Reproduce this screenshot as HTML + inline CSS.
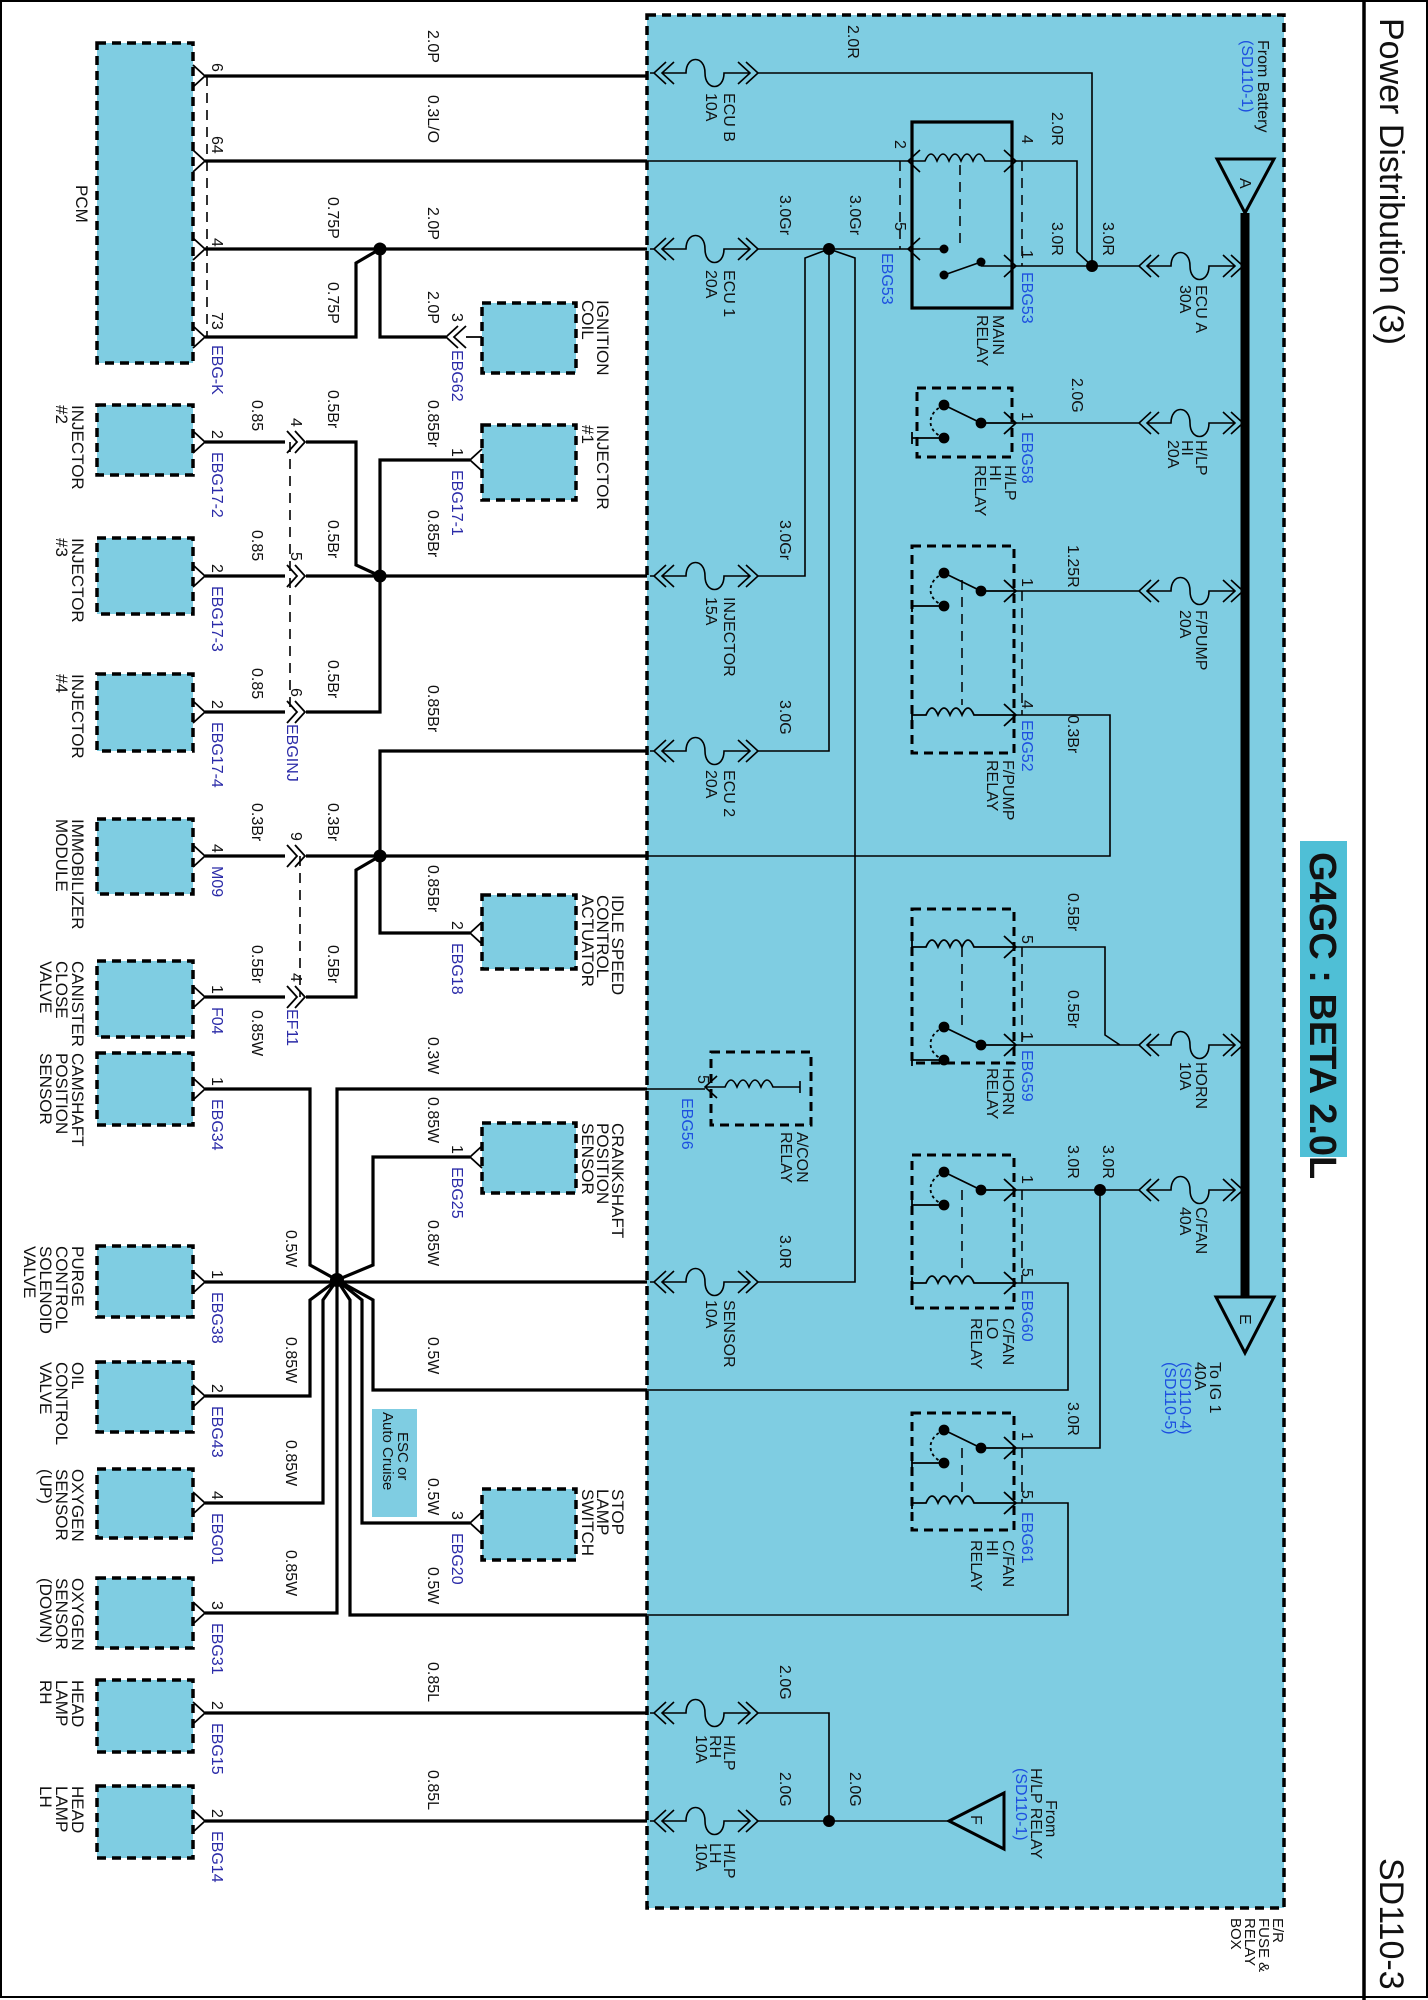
<!DOCTYPE html>
<html><head><meta charset="utf-8"><style>
html,body{margin:0;padding:0;background:#fff}
svg{display:block}
text{font-family:"Liberation Sans",Arial,sans-serif;font-size:16px;fill:#111}
.c{font-size:17px}
.b{fill:#2b2ba8}
.bb{fill:#1d4fe0}
.w{fill:none;stroke:#000;stroke-width:3.2}
.t{fill:none;stroke:#000;stroke-width:1.6}
.bx{fill:#7fcde2;stroke:#000;stroke-width:3.5;stroke-dasharray:9,6}
.rl{fill:none;stroke:#000;stroke-width:3;stroke-dasharray:9,6}
.dl{fill:none;stroke:#000;stroke-width:1.5;stroke-dasharray:10,7}
</style></head><body>
<svg width="1428" height="2000" viewBox="0 0 1428 2000" xmlns="http://www.w3.org/2000/svg">
<defs>
<g id="fz" fill="none" stroke="#000" stroke-width="1.6"><path d="M0,0H4 M16,-11L4,0L16,11 M24,-11L12,0L24,11 M12,0H36 C36,-18 55,-18 55,0 C55,18 74,18 74,0 H100 M88,-11L100,0L88,11 M96,-11L108,0L96,11"/></g>
<g id="pl" fill="none" stroke="#000" stroke-width="1.8"><path d="M-12,-11L0,0L-12,11"/></g>
<g id="pr" fill="none" stroke="#000" stroke-width="1.8"><path d="M12,-11L0,0L12,11"/></g>
<g id="cn" fill="none" stroke="#000" stroke-width="1.8"><path d="M0,-11L10,0L0,11 M-8,-11L2,0L-8,11"/></g>
<g id="sw" fill="none" stroke="#000" stroke-width="1.8"><circle cx="69" cy="0" r="4.5" fill="#000"/><circle cx="32" cy="-18" r="4.5" fill="#000"/><circle cx="32" cy="15" r="4.5" fill="#000"/><path d="M32,-18L69,0 M69,0H104 M0,15H32 M0,9V21 M92,-11L104,0L92,11"/><path d="M32,-18 C14,-10 14,8 32,15" stroke-dasharray="3,3"/></g>
<g id="co" fill="none" stroke="#000" stroke-width="1.8"><path d="M0,0H14 q6,-14 12,0 q6,-14 12,0 q6,-14 12,0 q6,-14 12,0 H104 M0,-6V6 M92,-11L104,0L92,11"/></g>
</defs>
<rect x="1" y="1" width="1426" height="1996" fill="none" stroke="#000" stroke-width="2"/>
<line x1="1364" y1="0" x2="1364" y2="2000" stroke="#000" stroke-width="3.5"/>
<text transform="translate(1380,18) rotate(90)" style="font-size:34px">Power Distribution (3)</text>
<text transform="translate(1380,1858) rotate(90)" style="font-size:34px">SD110-3</text>

<rect x="647" y="15" width="637" height="1893" class="bx"/>
<text transform="translate(1273,1918) rotate(90)" style="font-size:15px">E/R</text>
<text transform="translate(1259,1918) rotate(90)" style="font-size:15px">FUSE &amp;</text>
<text transform="translate(1245,1918) rotate(90)" style="font-size:15px">RELAY</text>
<text transform="translate(1231,1918) rotate(90)" style="font-size:15px">BOX</text>

<rect x="1300" y="841" width="47" height="316" fill="#4fbfd6"/>
<text transform="translate(1310,852) rotate(90)" style="font-size:38px;font-weight:bold">G4GC : BETA 2.0L</text>

<line x1="1245" y1="213" x2="1245" y2="1297" stroke="#000" stroke-width="9"/>
<polygon points="1217,159 1274,159 1245,213" fill="#7fcde2" stroke="#000" stroke-width="3"/>
<text transform="translate(1240,178) rotate(90)">A</text>
<polygon points="1216,1297 1274,1297 1245,1353" fill="#7fcde2" stroke="#000" stroke-width="3"/>
<text transform="translate(1240,1314) rotate(90)">E</text>
<polygon points="949,1821 1004,1793 1004,1849" fill="#7fcde2" stroke="#000" stroke-width="3"/>
<text transform="translate(971,1815) rotate(90)">F</text>
<text transform="translate(1258,40) rotate(90)">From Battery</text>
<text class="bb" transform="translate(1242,40) rotate(90)">(SD110-1)</text>
<text transform="translate(1210,1362) rotate(90)">To IG 1</text>
<text transform="translate(1195,1362) rotate(90)">40A</text>
<text class="bb" transform="translate(1180,1362) rotate(90)">(SD110-4)</text>
<text class="bb" transform="translate(1165,1362) rotate(90)">(SD110-5)</text>
<text transform="translate(1046,1800) rotate(90)">From</text>
<text transform="translate(1031,1768) rotate(90)">H/LP RELAY</text>
<text class="bb" transform="translate(1016,1768) rotate(90)">(SD110-1)</text>

<use href="#fz" x="650" y="73"/>
<use href="#fz" x="650" y="249"/>
<use href="#fz" x="650" y="576"/>
<use href="#fz" x="650" y="751"/>
<use href="#fz" x="650" y="1282"/>
<use href="#fz" x="650" y="1713"/>
<use href="#fz" x="650" y="1821"/>
<use href="#fz" x="1135" y="266"/>
<use href="#fz" x="1135" y="423"/>
<use href="#fz" x="1135" y="591"/>
<use href="#fz" x="1135" y="1045"/>
<use href="#fz" x="1135" y="1190"/>
<text transform="translate(724,93) rotate(90)">ECU B</text><text transform="translate(706,93) rotate(90)">10A</text>
<text transform="translate(724,270) rotate(90)">ECU 1</text><text transform="translate(706,270) rotate(90)">20A</text>
<text transform="translate(724,597) rotate(90)">INJECTOR</text><text transform="translate(706,597) rotate(90)">15A</text>
<text transform="translate(724,770) rotate(90)">ECU 2</text><text transform="translate(706,770) rotate(90)">20A</text>
<text transform="translate(724,1300) rotate(90)">SENSOR</text><text transform="translate(706,1300) rotate(90)">10A</text>
<text transform="translate(724,1735) rotate(90)">H/LP</text><text transform="translate(710,1735) rotate(90)">RH</text><text transform="translate(696,1735) rotate(90)">10A</text>
<text transform="translate(724,1843) rotate(90)">H/LP</text><text transform="translate(710,1843) rotate(90)">LH</text><text transform="translate(696,1843) rotate(90)">10A</text>
<text transform="translate(1196,285) rotate(90)">ECU A</text><text transform="translate(1180,285) rotate(90)">30A</text>
<text transform="translate(1196,440) rotate(90)">H/LP</text><text transform="translate(1182,440) rotate(90)">HI</text><text transform="translate(1168,440) rotate(90)">20A</text>
<text transform="translate(1196,610) rotate(90)">F/PUMP</text><text transform="translate(1180,610) rotate(90)">20A</text>
<text transform="translate(1196,1062) rotate(90)">HORN</text><text transform="translate(1180,1062) rotate(90)">10A</text>
<text transform="translate(1196,1207) rotate(90)">C/FAN</text><text transform="translate(1180,1207) rotate(90)">40A</text>

<path class="t" d="M758,73H1092V266 M647,161H908 M758,249H908 M1016,161H1077V252L1092,266 M1016,266H1135 M758,576H805V258L829,249 M758,751H829V249 M758,1282H855V258L829,249"/>
<path class="t" d="M1016,423H1135 M1016,591H1135 M1016,715H1110V856H647 M1016,947H1105V1035L1120,1045 M1016,1045H1135 M1016,1190H1135 M1100,1190V1448H1016 M1016,1283H1068V1390H647 M1016,1503H1068V1615H647 M647,1089H705 M758,1713H829V1821 M758,1821H949"/>
<circle cx="1092" cy="266" r="6" fill="#000"/>
<circle cx="829" cy="249" r="6" fill="#000"/>
<circle cx="1100" cy="1190" r="6" fill="#000"/>
<circle cx="829" cy="1821" r="6" fill="#000"/>

<rect x="912" y="122" width="100" height="186" fill="none" stroke="#000" stroke-width="3.2"/>
<path class="t" d="M908,161H925 q6,-14 12,0 q6,-14 12,0 q6,-14 12,0 q6,-14 12,0 q6,-14 12,0 H1016 M908,249H944"/>
<path class="t" d="M920,150L908,161L920,172 M1004,150L1016,161L1004,172 M920,238L908,249L920,260 M1004,255L1016,266L1004,277"/>
<circle cx="944" cy="249" r="4.5"/><circle cx="981" cy="262" r="4.5"/><circle cx="944" cy="275" r="4.5"/>
<path class="t" d="M981,262L944,275 M981,266H1016"/>
<path class="dl" d="M960,165V250 M900,161V249 M1022,161V266"/>
<text transform="translate(895,140) rotate(90)">2</text><text transform="translate(1022,135) rotate(90)">4</text>
<text transform="translate(895,222) rotate(90)">5</text><text transform="translate(1022,250) rotate(90)">1</text>
<text class="bb" transform="translate(882,253) rotate(90)">EBG53</text><text class="bb" transform="translate(1022,272) rotate(90)">EBG53</text>
<text transform="translate(993,315) rotate(90)">MAIN</text><text transform="translate(977,315) rotate(90)">RELAY</text>

<rect x="917" y="388" width="95" height="69" class="rl"/>
<use href="#sw" x="912" y="423"/>
<text transform="translate(1022,412) rotate(90)">1</text>
<text class="bb" transform="translate(1022,432) rotate(90)">EBG58</text>
<text transform="translate(1005,465) rotate(90)">H/LP</text><text transform="translate(990,465) rotate(90)">HI</text><text transform="translate(975,465) rotate(90)">RELAY</text>

<rect x="912" y="546" width="102" height="207" class="rl"/>
<use href="#sw" x="912" y="591"/>
<use href="#co" x="912" y="715"/>
<path class="dl" d="M962,580V705 M1022,591V715"/>
<text transform="translate(1022,578) rotate(90)">1</text><text transform="translate(1022,700) rotate(90)">4</text>
<text class="bb" transform="translate(1022,720) rotate(90)">EBG52</text>
<text transform="translate(1003,760) rotate(90)">F/PUMP</text><text transform="translate(987,760) rotate(90)">RELAY</text>

<rect x="912" y="909" width="102" height="154" class="rl"/>
<use href="#co" x="912" y="947"/>
<use href="#sw" x="912" y="1045"/>
<path class="dl" d="M962,947V1030 M1022,947V1045"/>
<text transform="translate(1022,935) rotate(90)">5</text><text transform="translate(1022,1032) rotate(90)">1</text>
<text class="bb" transform="translate(1022,1050) rotate(90)">EBG59</text>
<text transform="translate(1003,1068) rotate(90)">HORN</text><text transform="translate(987,1068) rotate(90)">RELAY</text>

<rect x="711" y="1052" width="100" height="73" class="rl"/>
<path class="t" d="M705,1087H725 q6,-14 12,0 q6,-14 12,0 q6,-14 12,0 q6,-14 12,0 H800 M800,1081V1093 M717,1076L705,1087L717,1098"/>
<text transform="translate(698,1075) rotate(90)">5</text>
<text class="bb" transform="translate(682,1098) rotate(90)">EBG56</text>
<text transform="translate(797,1132) rotate(90)">A/CON</text><text transform="translate(781,1132) rotate(90)">RELAY</text>

<rect x="912" y="1155" width="102" height="153" class="rl"/>
<use href="#sw" x="912" y="1190"/>
<use href="#co" x="912" y="1283"/>
<path class="dl" d="M962,1190V1275 M1022,1190V1283"/>
<text transform="translate(1022,1175) rotate(90)">1</text><text transform="translate(1022,1268) rotate(90)">5</text>
<text class="bb" transform="translate(1022,1290) rotate(90)">EBG60</text>
<text transform="translate(1003,1318) rotate(90)">C/FAN</text><text transform="translate(987,1318) rotate(90)">LO</text><text transform="translate(971,1318) rotate(90)">RELAY</text>

<rect x="912" y="1413" width="102" height="117" class="rl"/>
<use href="#sw" x="912" y="1448"/>
<use href="#co" x="912" y="1503"/>
<path class="dl" d="M962,1448V1495 M1022,1448V1503"/>
<text transform="translate(1022,1432) rotate(90)">1</text><text transform="translate(1022,1490) rotate(90)">5</text>
<text class="bb" transform="translate(1022,1512) rotate(90)">EBG61</text>
<text transform="translate(1003,1540) rotate(90)">C/FAN</text><text transform="translate(987,1540) rotate(90)">HI</text><text transform="translate(971,1540) rotate(90)">RELAY</text>

<text transform="translate(848,25) rotate(90)">2.0R</text>
<text transform="translate(1052,112) rotate(90)">2.0R</text>
<text transform="translate(1052,222) rotate(90)">3.0R</text>
<text transform="translate(1103,222) rotate(90)">3.0R</text>
<text transform="translate(780,195) rotate(90)">3.0Gr</text>
<text transform="translate(850,195) rotate(90)">3.0Gr</text>
<text transform="translate(1072,378) rotate(90)">2.0G</text>
<text transform="translate(1068,545) rotate(90)">1.25R</text>
<text transform="translate(1068,715) rotate(90)">0.3Br</text>
<text transform="translate(780,520) rotate(90)">3.0Gr</text>
<text transform="translate(780,700) rotate(90)">3.0G</text>
<text transform="translate(1068,893) rotate(90)">0.5Br</text>
<text transform="translate(1068,990) rotate(90)">0.5Br</text>
<text transform="translate(1068,1145) rotate(90)">3.0R</text>
<text transform="translate(1103,1145) rotate(90)">3.0R</text>
<text transform="translate(1068,1402) rotate(90)">3.0R</text>
<text transform="translate(780,1235) rotate(90)">3.0R</text>
<text transform="translate(780,1665) rotate(90)">2.0G</text>
<text transform="translate(780,1772) rotate(90)">2.0G</text>
<text transform="translate(850,1772) rotate(90)">2.0G</text>

<path class="w" d="M205,76H647 M205,161H647 M205,249H647 M205,337H356V263L380,249 M380,249V337H446"/>
<path class="w" d="M205,442H285 M306,442H356V565L380,576 M470,460H380V576 M205,576H285 M306,576H647 M205,712H285 M306,712H380V576"/>
<path class="w" d="M647,751H380V933H470 M205,856H285 M306,856H647 M205,997H285 M306,997H356V870L380,856"/>
<path class="w" d="M205,1089H310V1265L337,1280 M647,1089H337V1280 M470,1157H373V1265L337,1280 M205,1282H647"/>
<path class="w" d="M205,1396H310V1300L337,1280 M205,1503H323V1300L337,1280 M205,1613H337V1280 M647,1615H350V1300L337,1280 M470,1523H362V1300L337,1280 M647,1390H373V1300L337,1280"/>
<path class="w" d="M205,1713H647 M205,1821H647"/>
<circle cx="380" cy="249" r="6.5" fill="#000"/>
<circle cx="380" cy="576" r="6.5" fill="#000"/>
<circle cx="380" cy="856" r="6.5" fill="#000"/>
<circle cx="337" cy="1280" r="7" fill="#000"/>
<path class="dl" d="M207,76V337 M290,442V712 M300,856V997" style="stroke-width:1.6"/>

<use href="#cn" x="295" y="442"/><use href="#cn" x="295" y="576"/><use href="#cn" x="295" y="712"/>
<use href="#cn" x="295" y="856"/><use href="#cn" x="295" y="997"/>
<path class="t" style="stroke-width:1.8" d="M458,326L446,337L458,348 M466,326L454,337L466,348 M466,337H482"/>

<g class="bx">
<rect x="97" y="43" width="96" height="320"/>
<rect x="97" y="405" width="96" height="70"/>
<rect x="97" y="538" width="96" height="76"/>
<rect x="97" y="674" width="96" height="77"/>
<rect x="97" y="819" width="96" height="75"/>
<rect x="97" y="961" width="96" height="76"/>
<rect x="97" y="1053" width="96" height="72"/>
<rect x="97" y="1246" width="96" height="71"/>
<rect x="97" y="1362" width="96" height="70"/>
<rect x="97" y="1469" width="96" height="69"/>
<rect x="97" y="1578" width="96" height="70"/>
<rect x="97" y="1680" width="96" height="72"/>
<rect x="97" y="1786" width="96" height="72"/>
<rect x="482" y="303" width="94" height="70"/>
<rect x="482" y="425" width="94" height="75"/>
<rect x="482" y="895" width="94" height="74"/>
<rect x="482" y="1123" width="94" height="70"/>
<rect x="482" y="1489" width="94" height="71"/>
</g>
<rect x="372" y="1409" width="45" height="108" fill="#7fcde2"/>
<text transform="translate(398,1432) rotate(90)" style="font-size:15px">ESC or</text>
<text transform="translate(383,1412) rotate(90)" style="font-size:15px">Auto Cruise</text>

<use href="#pl" x="205" y="76"/><use href="#pl" x="205" y="161"/><use href="#pl" x="205" y="249"/><use href="#pl" x="205" y="337"/>
<use href="#pl" x="205" y="442"/><use href="#pl" x="205" y="576"/><use href="#pl" x="205" y="712"/><use href="#pl" x="205" y="856"/>
<use href="#pl" x="205" y="997"/><use href="#pl" x="205" y="1089"/><use href="#pl" x="205" y="1282"/><use href="#pl" x="205" y="1396"/>
<use href="#pl" x="205" y="1503"/><use href="#pl" x="205" y="1613"/><use href="#pl" x="205" y="1713"/><use href="#pl" x="205" y="1821"/>
<use href="#pr" x="470" y="460"/><use href="#pr" x="470" y="933"/><use href="#pr" x="470" y="1157"/><use href="#pr" x="470" y="1523"/>

<g class="c">
<text class="c" transform="translate(76,185) rotate(90)">PCM</text>
<text class="c" transform="translate(72,405) rotate(90)">INJECTOR</text><text class="c" transform="translate(56,405) rotate(90)">#2</text>
<text class="c" transform="translate(72,538) rotate(90)">INJECTOR</text><text class="c" transform="translate(56,538) rotate(90)">#3</text>
<text class="c" transform="translate(72,674) rotate(90)">INJECTOR</text><text class="c" transform="translate(56,674) rotate(90)">#4</text>
<text class="c" transform="translate(72,819) rotate(90)">IMMOBILIZER</text><text class="c" transform="translate(56,819) rotate(90)">MODULE</text>
<text class="c" transform="translate(72,961) rotate(90)">CANISTER</text><text class="c" transform="translate(56,961) rotate(90)">CLOSE</text><text class="c" transform="translate(40,961) rotate(90)">VALVE</text>
<text class="c" transform="translate(72,1053) rotate(90)">CAMSHAFT</text><text class="c" transform="translate(56,1053) rotate(90)">POSITION</text><text class="c" transform="translate(40,1053) rotate(90)">SENSOR</text>
<text class="c" transform="translate(72,1246) rotate(90)">PURGE</text><text class="c" transform="translate(56,1246) rotate(90)">CONTROL</text><text class="c" transform="translate(40,1246) rotate(90)">SOLENOID</text><text class="c" transform="translate(24,1246) rotate(90)">VALVE</text>
<text class="c" transform="translate(72,1362) rotate(90)">OIL</text><text class="c" transform="translate(56,1362) rotate(90)">CONTROL</text><text class="c" transform="translate(40,1362) rotate(90)">VALVE</text>
<text class="c" transform="translate(72,1469) rotate(90)">OXYGEN</text><text class="c" transform="translate(56,1469) rotate(90)">SENSOR</text><text class="c" transform="translate(40,1469) rotate(90)">(UP)</text>
<text class="c" transform="translate(72,1578) rotate(90)">OXYGEN</text><text class="c" transform="translate(56,1578) rotate(90)">SENSOR</text><text class="c" transform="translate(40,1578) rotate(90)">(DOWN)</text>
<text class="c" transform="translate(72,1680) rotate(90)">HEAD</text><text class="c" transform="translate(56,1680) rotate(90)">LAMP</text><text class="c" transform="translate(40,1680) rotate(90)">RH</text>
<text class="c" transform="translate(72,1786) rotate(90)">HEAD</text><text class="c" transform="translate(56,1786) rotate(90)">LAMP</text><text class="c" transform="translate(40,1786) rotate(90)">LH</text>
<text class="c" transform="translate(597,300) rotate(90)">IGNITION</text><text class="c" transform="translate(582,300) rotate(90)">COIL</text>
<text class="c" transform="translate(597,425) rotate(90)">INJECTOR</text><text class="c" transform="translate(582,425) rotate(90)">#1</text>
<text class="c" transform="translate(612,895) rotate(90)">IDLE SPEED</text><text class="c" transform="translate(597,895) rotate(90)">CONTROL</text><text class="c" transform="translate(582,895) rotate(90)">ACTUATOR</text>
<text class="c" transform="translate(612,1123) rotate(90)">CRANKSHAFT</text><text class="c" transform="translate(597,1123) rotate(90)">POSITION</text><text class="c" transform="translate(582,1123) rotate(90)">SENSOR</text>
<text class="c" transform="translate(612,1489) rotate(90)">STOP</text><text class="c" transform="translate(597,1489) rotate(90)">LAMP</text><text class="c" transform="translate(582,1489) rotate(90)">SWITCH</text>
</g>

<text transform="translate(212,63) rotate(90)">6</text>
<text transform="translate(212,136) rotate(90)">64</text>
<text transform="translate(212,238) rotate(90)">4</text>
<text transform="translate(212,312) rotate(90)">73</text>
<text class="b" transform="translate(212,345) rotate(90)">EBG-K</text>
<text transform="translate(212,430) rotate(90)">2</text><text class="b" transform="translate(212,452) rotate(90)">EBG17-2</text>
<text transform="translate(212,564) rotate(90)">2</text><text class="b" transform="translate(212,586) rotate(90)">EBG17-3</text>
<text transform="translate(212,700) rotate(90)">2</text><text class="b" transform="translate(212,722) rotate(90)">EBG17-4</text>
<text transform="translate(212,844) rotate(90)">4</text><text class="b" transform="translate(212,866) rotate(90)">M09</text>
<text transform="translate(212,985) rotate(90)">1</text><text class="b" transform="translate(212,1007) rotate(90)">F04</text>
<text transform="translate(212,1077) rotate(90)">1</text><text class="b" transform="translate(212,1099) rotate(90)">EBG34</text>
<text transform="translate(212,1270) rotate(90)">1</text><text class="b" transform="translate(212,1292) rotate(90)">EBG38</text>
<text transform="translate(212,1384) rotate(90)">2</text><text class="b" transform="translate(212,1406) rotate(90)">EBG43</text>
<text transform="translate(212,1491) rotate(90)">4</text><text class="b" transform="translate(212,1513) rotate(90)">EBG01</text>
<text transform="translate(212,1601) rotate(90)">3</text><text class="b" transform="translate(212,1623) rotate(90)">EBG31</text>
<text transform="translate(212,1701) rotate(90)">2</text><text class="b" transform="translate(212,1723) rotate(90)">EBG15</text>
<text transform="translate(212,1809) rotate(90)">2</text><text class="b" transform="translate(212,1831) rotate(90)">EBG14</text>
<text transform="translate(452,313) rotate(90)">3</text><text class="b" transform="translate(452,350) rotate(90)">EBG62</text>
<text transform="translate(452,448) rotate(90)">1</text><text class="b" transform="translate(452,470) rotate(90)">EBG17-1</text>
<text transform="translate(452,921) rotate(90)">2</text><text class="b" transform="translate(452,943) rotate(90)">EBG18</text>
<text transform="translate(452,1145) rotate(90)">1</text><text class="b" transform="translate(452,1167) rotate(90)">EBG25</text>
<text transform="translate(452,1511) rotate(90)">3</text><text class="b" transform="translate(452,1533) rotate(90)">EBG20</text>
<text transform="translate(291,418) rotate(90)">4</text>
<text transform="translate(291,552) rotate(90)">5</text>
<text transform="translate(291,688) rotate(90)">6</text>
<text class="b" transform="translate(287,724) rotate(90)">EBGINJ</text>
<text transform="translate(291,832) rotate(90)">9</text>
<text transform="translate(291,973) rotate(90)">4</text>
<text class="b" transform="translate(287,1009) rotate(90)">EF11</text>

<text transform="translate(428,30) rotate(90)">2.0P</text>
<text transform="translate(428,95) rotate(90)">0.3L/O</text>
<text transform="translate(428,207) rotate(90)">2.0P</text>
<text transform="translate(328,197) rotate(90)">0.75P</text>
<text transform="translate(328,282) rotate(90)">0.75P</text>
<text transform="translate(428,291) rotate(90)">2.0P</text>
<text transform="translate(328,390) rotate(90)">0.5Br</text>
<text transform="translate(252,400) rotate(90)">0.85</text>
<text transform="translate(428,400) rotate(90)">0.85Br</text>
<text transform="translate(428,510) rotate(90)">0.85Br</text>
<text transform="translate(328,520) rotate(90)">0.5Br</text>
<text transform="translate(252,530) rotate(90)">0.85</text>
<text transform="translate(328,660) rotate(90)">0.5Br</text>
<text transform="translate(252,668) rotate(90)">0.85</text>
<text transform="translate(428,685) rotate(90)">0.85Br</text>
<text transform="translate(328,803) rotate(90)">0.3Br</text>
<text transform="translate(252,803) rotate(90)">0.3Br</text>
<text transform="translate(428,865) rotate(90)">0.85Br</text>
<text transform="translate(328,945) rotate(90)">0.5Br</text>
<text transform="translate(252,945) rotate(90)">0.5Br</text>
<text transform="translate(252,1010) rotate(90)">0.85W</text>
<text transform="translate(428,1037) rotate(90)">0.3W</text>
<text transform="translate(428,1097) rotate(90)">0.85W</text>
<text transform="translate(428,1220) rotate(90)">0.85W</text>
<text transform="translate(286,1230) rotate(90)">0.5W</text>
<text transform="translate(286,1337) rotate(90)">0.85W</text>
<text transform="translate(428,1337) rotate(90)">0.5W</text>
<text transform="translate(286,1440) rotate(90)">0.85W</text>
<text transform="translate(428,1478) rotate(90)">0.5W</text>
<text transform="translate(286,1550) rotate(90)">0.85W</text>
<text transform="translate(428,1567) rotate(90)">0.5W</text>
<text transform="translate(428,1662) rotate(90)">0.85L</text>
<text transform="translate(428,1770) rotate(90)">0.85L</text>
</svg>
</body></html>
